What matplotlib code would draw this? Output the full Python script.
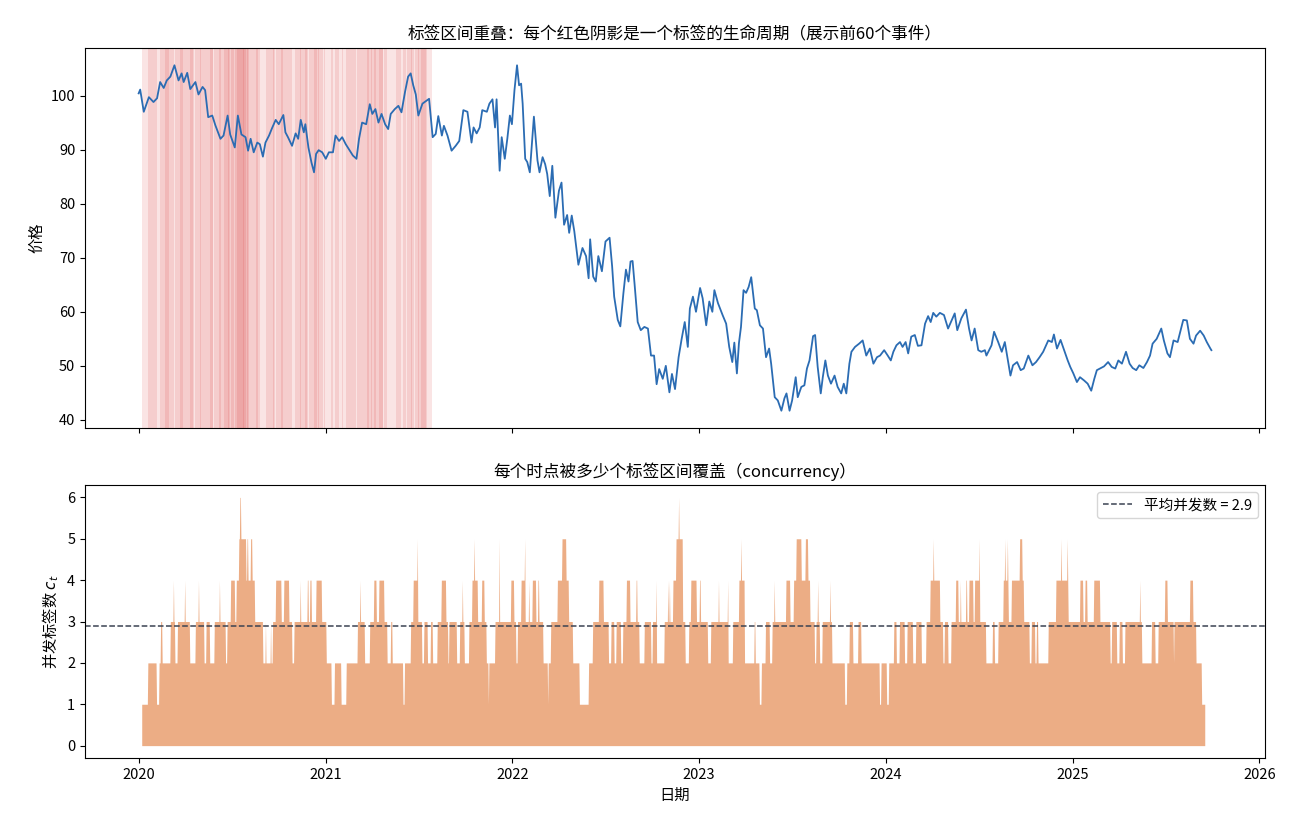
import numpy as np
import pandas as pd
import matplotlib
matplotlib.use("Agg")
import matplotlib.pyplot as plt
import matplotlib.dates as mdates

plt.rcParams['font.family'] = ['Noto Sans CJK SC', 'DejaVu Sans']
plt.rcParams['axes.unicode_minus'] = False

BASE = pd.Timestamp('2020-01-01')

# ---- price series (day offset from 2020-01-01, price) ----
price_days = [0, 3, 10, 20, 29, 36, 42, 49, 55, 62, 70, 78, 84, 88, 95, 101, 111, 117, 125, 130,
              136, 144, 150, 160, 166, 174, 179, 188, 194, 201, 209, 214, 219, 225, 232, 237, 243,
              248, 255, 261, 268, 274, 283, 287, 292, 300, 307, 312, 317, 323, 326, 332, 338, 343,
              347, 352, 359, 366, 372, 380, 385, 392, 398, 405, 411, 419, 426, 431, 437, 445, 452,
              457, 463, 469, 475, 482, 488, 493, 501, 508, 514, 521, 527, 532, 537, 542, 547,
              555, 568, 575, 581, 586, 593, 597, 604, 612, 620, 627, 635, 643, 651, 655, 661, 667,
              672, 681, 686, 692, 697, 700, 706, 710, 716, 721, 726, 730, 735, 740, 744, 748, 751,
              756, 760, 765, 773, 780, 784, 790, 795, 799, 804, 809, 815, 822, 827, 832, 838, 842,
              847, 852, 856, 860, 868, 875, 880, 883, 889, 894, 899, 906, 913, 921, 926, 930, 937,
              942, 948, 953, 958, 962, 966, 970, 976, 982, 989, 996, 1002, 1008, 1013, 1018, 1025,
              1031, 1038, 1043, 1049, 1056, 1062, 1068, 1074, 1078, 1084, 1090, 1098, 1103, 1110,
              1116, 1122, 1126, 1133,
              1142, 1149, 1155, 1161, 1165, 1170, 1174, 1178, 1183, 1188, 1193, 1198, 1205, 1209,
              1215, 1221, 1227, 1233, 1237, 1244, 1250, 1257, 1263, 1267, 1273, 1278, 1285, 1289,
              1296, 1302, 1307, 1312, 1319, 1323, 1328, 1334, 1338, 1343, 1348, 1354, 1361, 1367,
              1374, 1379, 1384, 1390, 1394, 1401, 1409, 1416, 1423, 1430, 1437, 1444, 1450, 1458,
              1465, 1471, 1476, 1482, 1489, 1494, 1500, 1505, 1511, 1518, 1524, 1531, 1538, 1544,
              1549, 1554, 1560, 1567, 1575, 1583, 1590, 1596, 1601, 1609, 1618, 1624, 1629, 1635,
              1642, 1648,
              1655, 1658, 1668, 1673, 1681, 1688, 1694, 1701, 1705, 1710, 1718, 1725, 1731, 1740,
              1748, 1755, 1762, 1769, 1779, 1786, 1790, 1796, 1803, 1810, 1817, 1822, 1828, 1835,
              1841, 1849, 1856, 1863, 1869, 1874, 1880, 1888, 1896, 1903, 1910, 1916, 1923, 1931,
              1938, 1944, 1951, 1957, 1965, 1972, 1978, 1983, 1991, 2000, 2005, 2012, 2017, 2024,
              2032, 2037, 2043, 2050, 2056, 2063, 2068, 2076, 2083, 2089, 2096, 2098]
price_vals = [100.4, 101.1, 97.0, 99.7, 98.8, 99.5, 102.5, 101.4, 102.8, 103.5, 105.6, 102.8, 104.1,
              102.5, 104.2, 101.2, 102.5, 100.2, 101.6, 101.0,
              96.0, 96.3, 94.5, 92.0, 92.6, 96.3, 92.8, 90.4, 96.3, 92.8, 92.3, 89.8, 92.0, 89.5,
              91.3, 91.0, 88.7, 91.3, 92.6, 94.0, 95.5, 94.7, 96.4, 93.2, 92.3, 90.7, 93.0, 92.0,
              95.5, 93.2, 94.7, 90.4, 87.6, 85.8, 89.2, 89.9, 89.5, 88.3, 89.5, 89.5, 92.6, 91.6,
              92.3, 91.0, 90.1, 88.9, 88.3, 92.0, 95.0, 94.7, 98.4, 96.6, 97.5, 95.0, 96.6, 94.7,
              93.8, 96.6, 97.5, 98.1, 96.9, 100.7, 103.5, 104.1, 101.9, 100.2, 96.3,
              98.5, 99.4, 92.3, 92.9, 96.2, 92.6, 94.4, 92.6, 89.8, 90.7, 91.6, 97.3, 97.0, 91.3,
              94.1, 93.0, 94.1, 97.3, 97.0, 98.5, 99.3, 94.1, 99.3, 86.1, 92.3, 88.3, 92.0, 96.3,
              94.7, 101.0, 105.6, 101.9, 102.2, 98.5, 88.3, 87.7, 85.8, 96.1, 88.0, 85.8, 88.6,
              87.3, 85.5, 81.4, 87.0, 77.4, 82.4, 83.9, 76.1, 77.9, 74.6, 77.8, 74.9, 71.8, 68.7,
              71.8, 70.3, 66.2, 73.4, 66.5, 65.6, 70.3, 67.5, 73.0, 73.7, 68.4, 62.8, 58.5, 57.3,
              63.4, 67.8, 65.6, 69.3, 69.4, 65.0, 58.1, 56.6, 57.2, 56.9, 51.9, 51.9, 46.6, 49.4,
              47.6, 50.0, 45.1, 48.5, 45.7, 51.6, 55.0, 58.1, 53.5, 60.6, 62.8, 60.0, 64.4, 62.5,
              57.5, 61.9, 60.0, 64.0, 61.6,
              59.4, 57.8, 53.5, 50.7, 54.3, 48.6, 54.2, 57.2, 64.0, 63.5, 64.6, 66.4, 60.6, 60.3,
              57.5, 56.9, 51.6, 53.2, 50.4, 44.2, 43.6, 41.7, 44.0, 44.9, 41.7, 43.6, 47.9, 44.2,
              46.1, 46.4, 49.5, 51.0, 55.5, 55.7, 49.8, 44.9, 47.9, 51.0, 48.2, 46.7, 48.2, 46.1,
              44.9, 46.7, 44.9, 50.4, 52.6, 53.5, 54.1, 54.7, 51.9, 53.2, 50.4, 51.6, 51.9, 52.9,
              51.9, 51.0, 52.6, 53.8, 54.4, 53.5, 54.4, 52.3, 55.4, 55.7, 53.7, 53.8, 57.8, 59.2,
              58.1, 59.8, 59.1, 59.8, 59.4, 56.9, 58.4, 59.7, 56.6, 58.8, 60.4, 56.9, 54.7, 56.9,
              52.9, 52.6,
              52.9, 51.9, 53.8, 56.3, 54.4, 52.6, 54.4, 50.4, 48.2, 50.1, 50.7, 49.2, 49.5, 51.9,
              50.1, 50.7, 51.6, 52.6, 54.7, 54.4, 55.8, 53.2, 54.8, 52.9, 51.0, 49.8, 48.6, 47.0,
              47.9, 47.3, 46.7, 45.4, 47.6, 49.2, 49.5, 49.9, 50.7, 49.8, 49.5, 51.0, 50.4, 52.6,
              50.4, 49.6, 49.2, 50.1, 49.6, 50.7, 51.9, 54.1, 55.0, 56.9, 54.7, 52.3, 51.6, 54.7,
              54.4, 56.3, 58.5, 58.4, 55.0, 54.1, 55.6, 56.5, 55.6, 54.4, 53.2, 52.9]

# ---- first 60 label intervals (start day, end day) ----
event_start = [6, 18, 30, 41, 52, 62, 71, 80, 90, 100, 111, 120, 130, 139, 148, 158, 166, 174, 181,
               188, 193, 198, 204, 212, 220, 230, 243, 250, 262, 268, 279, 287, 300, 305, 316, 326,
               334, 343, 351, 362, 377, 384, 397, 406, 418, 428, 436, 447, 455, 461, 470, 480, 493,
               503, 517, 524, 533, 540, 547, 553]
event_end = [30, 35, 59, 62, 70, 87, 91, 107, 109, 122, 129, 145, 145, 162, 176, 178, 187, 206, 199,
             210, 213, 215, 219, 233, 238, 244, 267, 265, 282, 287, 300, 300, 318, 330, 331, 348,
             353, 360, 364, 380, 391, 399, 418, 426, 436, 451, 456, 465, 477, 478, 485, 493, 514,
             523, 535, 538, 548, 561, 564, 573]

# ---- concurrency: change days and the level that starts there ----
conc_day = [6, 18, 35, 40, 43, 46, 62, 68, 69, 71, 76, 90, 91, 100, 111, 117, 118, 128, 132, 139,
            148, 158, 159, 170, 173, 180, 188, 191, 196, 198, 200, 210, 212, 214, 219, 222, 227,
            243, 248, 249, 258, 259, 262, 268, 279, 284, 294, 300, 304, 316, 317, 330, 332, 335,
            338, 347, 358, 367, 377, 383, 396, 406, 428, 433, 434, 442, 452, 460, 465, 470, 480,
            486, 493, 496, 517, 520,
            532, 537, 545, 546, 554, 558, 565, 571, 575, 584, 592, 601, 605, 607, 622, 628, 633,
            634, 637, 646, 652, 656, 657, 663, 671, 676, 680, 684, 685, 697, 705, 706, 728, 734,
            738, 741, 748, 755, 756, 763, 764, 770, 777, 781, 783, 791, 800, 801, 806, 819, 828,
            836, 841, 849, 862, 880, 888, 900, 909, 919, 924, 930, 934, 943, 947, 954, 961, 973,
            975, 979, 989, 1002, 1005, 1012, 1013, 1028, 1035, 1036, 1038, 1039, 1045, 1051, 1056,
            1057, 1064, 1069, 1076, 1080,
            1091, 1097, 1099, 1113, 1119, 1134, 1135, 1152, 1153, 1162, 1174, 1178, 1179, 1185,
            1204, 1206, 1214, 1218, 1226, 1234, 1239, 1243, 1244, 1266, 1274, 1281, 1286, 1296,
            1304, 1309, 1313, 1322, 1325, 1328, 1329, 1332, 1337, 1352, 1353, 1356, 1381, 1385,
            1390, 1397, 1407, 1413, 1449, 1452, 1463, 1467, 1477, 1482, 1488, 1498, 1503, 1514,
            1520, 1531, 1540, 1548, 1554, 1555, 1567, 1573, 1576, 1583, 1589, 1598, 1603, 1607,
            1608, 1618, 1620, 1624,
            1632, 1635, 1644, 1645, 1657, 1670, 1674, 1681, 1691, 1694, 1695, 1699, 1700, 1701,
            1707, 1723, 1728, 1731, 1742, 1746, 1753, 1756, 1759, 1779, 1794, 1804, 1805, 1816,
            1817, 1818, 1841, 1847, 1851, 1855, 1868, 1880, 1900, 1903, 1913, 1918, 1924, 1929,
            1958, 1959, 1962, 1981, 1988, 1994, 2007, 2012, 2024, 2025, 2056, 2062, 2068, 2079]
conc_level = [1, 2, 1, 2, 3, 2, 3, 4, 3, 2, 3, 4, 3, 2, 3, 4, 3, 2, 3, 2,
              3, 4, 3, 2, 3, 4, 3, 4, 5, 6, 5, 4, 5, 4, 5, 4, 3,
              2, 3, 2, 3, 2, 3, 4, 3, 4, 3, 2, 3, 4, 3, 4, 3, 4,
              3, 4, 3, 2, 1, 2, 1, 2, 3, 4, 3, 2, 3, 4, 3, 4, 3,
              2, 3, 2, 1, 2,
              3, 4, 5, 3, 2, 3, 2, 3, 2, 3, 4, 3, 2, 3, 2, 3, 4,
              3, 2, 3, 4, 5, 4, 3, 4, 3, 2, 1, 2, 3, 5, 3, 4, 3,
              2, 3, 4, 5, 3, 4, 3, 4, 3, 4, 3, 2, 1, 2, 3, 4, 5,
              4, 3, 2, 1, 2, 3, 4, 3, 2, 3, 2, 3, 2, 3, 4, 3, 4,
              3, 2, 3, 2, 3, 4, 2, 3, 4, 3, 4, 3, 4, 5, 6,
              5, 3, 2, 3, 4,
              3, 4, 3, 2, 3, 4, 3, 4, 2, 3, 4, 5, 4, 2,
              3, 2, 1, 2, 3, 2, 3, 4, 3, 4, 3, 4, 5, 4,
              5, 4, 3, 2, 3, 4, 3, 2, 3, 4, 3, 2, 1, 2,
              3, 2, 3, 2, 1, 2, 1, 2, 3, 2, 3, 2, 3, 2,
              3, 2, 3, 4, 5, 4, 3, 2, 3, 2, 3, 4, 3, 4,
              3, 4, 3, 4,
              3, 4, 5, 3, 2, 3, 2, 3, 4, 5, 4, 5, 4, 3,
              4, 5, 4, 3, 2, 3, 2, 3, 2, 3, 4, 5, 4, 5,
              4, 3, 4, 3, 4, 3, 4, 3, 2, 3, 2, 3, 2, 3,
              4, 3, 2, 3, 2, 3, 4, 3, 2, 3, 4, 3, 2, 1]
conc_end_day = 2086
mean_conc = 2.9

# ---- build data ----
price_dates = BASE + pd.to_timedelta(price_days, unit='D')
cd = np.array(conc_day + [conc_end_day])
durations = np.diff(cd)
daily_level = np.repeat(np.array(conc_level, dtype=float), durations)
daily_days = np.arange(cd[0], cd[-1])
conc_dates = BASE + pd.to_timedelta(daily_days, unit='D')

fig = plt.figure(figsize=(13, 8.32), dpi=100)
ax1 = fig.add_axes([0.0654, 0.4856, 0.9077, 0.4567])
ax2 = fig.add_axes([0.0654, 0.0889, 0.9077, 0.3282], sharex=ax1)

for s, e in zip(event_start, event_end):
    ax1.axvspan(BASE + pd.Timedelta(days=s), BASE + pd.Timedelta(days=e),
                color='tab:red', alpha=0.12, lw=0)
ax1.plot(price_dates, price_vals, color='#2b6cb3', lw=1.3)
ax1.set_ylabel('价格', fontsize=11)
ax1.set_title('标签区间重叠：每个红色阴影是一个标签的生命周期（展示前60个事件）', fontsize=12)
ax1.tick_params(labelbottom=False, labelsize=10.5)

ax2.fill_between(conc_dates, 0, daily_level, color='#ecad85', lw=0)
ax2.axhline(mean_conc, color='#3b4252', ls='--', lw=1.1,
            label=f'平均并发数 = {mean_conc:.1f}')
ax2.set_ylabel('并发标签数 $c_t$', fontsize=11)
ax2.set_xlabel('日期', fontsize=11)
ax2.set_title('每个时点被多少个标签区间覆盖（concurrency）', fontsize=12)
ax2.legend(loc='upper right', fontsize=10.5)
ax2.set_yticks(range(0, 7))
ax2.tick_params(labelsize=10.5)

ax2.xaxis.set_major_locator(mdates.YearLocator())
ax2.xaxis.set_major_formatter(mdates.DateFormatter('%Y'))

fig.savefig('out.png', dpi=100)
